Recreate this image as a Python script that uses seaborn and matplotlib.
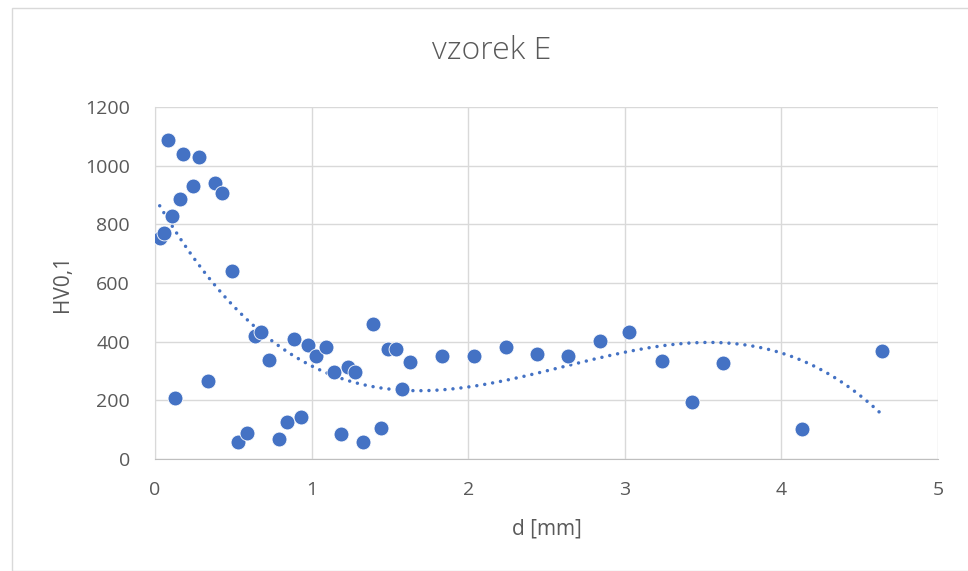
import numpy as np
import pandas as pd
import seaborn as sns
import matplotlib.pyplot as plt

# d [mm] and HV0,1 values
d_mm = [0.03, 0.06, 0.08, 0.11, 0.13, 0.16, 0.18, 0.24, 0.28, 0.34,
        0.38, 0.43, 0.49, 0.53, 0.59, 0.64, 0.68, 0.73, 0.79, 0.84,
        0.89, 0.93, 0.98, 1.03, 1.09, 1.14, 1.19, 1.23, 1.28, 1.33,
        1.39, 1.44, 1.49, 1.54, 1.58, 1.63, 1.83, 2.04, 2.24, 2.44,
        2.64, 2.84, 3.03, 3.24, 3.43, 3.63, 4.13, 4.64]
hv = [755, 772, 1087, 828, 208, 886, 1040, 931, 1030, 266,
      941, 907, 641, 58, 89, 420, 433, 338, 68, 126,
      409, 143, 389, 351, 382, 297, 85, 314, 297, 58,
      460, 106, 375, 375, 239, 331, 351, 351, 382, 358,
      351, 402, 433, 334, 194, 327, 102, 368]

df = pd.DataFrame({'d [mm]': d_mm, 'HV0,1': hv})

# polynomial trendline (order 3), like the Excel one
coef = np.polyfit(df['d [mm]'], df['HV0,1'], 3)
xs = np.linspace(min(d_mm), max(d_mm), 300)
trend = pd.DataFrame({'d [mm]': xs, 'HV0,1': np.polyval(coef, xs)})

sns.set_style('white')
plt.rcParams['font.family'] = ['Open Sans', 'DejaVu Sans']

blue = '#4472C4'
grey = '#595959'

fig = plt.figure(figsize=(9.68, 5.71), dpi=100)
ax = fig.add_axes([155/968, 1 - 459/571, (938-155)/968, (459-107)/571])

sns.lineplot(data=trend, x='d [mm]', y='HV0,1', ax=ax, color=blue,
             linestyle=(0, (0.01, 2.3)), linewidth=2.5,
             dash_capstyle='round', solid_capstyle='round')
sns.scatterplot(data=df, x='d [mm]', y='HV0,1', ax=ax, color=blue,
                s=115, edgecolor='white', linewidth=0.6, zorder=3)

ax.set_xlim(0, 5)
ax.set_ylim(0, 1200)
ax.set_xticks(range(0, 6))
ax.set_yticks(range(0, 1201, 200))
ax.grid(True, color='#d9d9d9', linewidth=1)
ax.set_axisbelow(True)
for side in ['top', 'right']:
    ax.spines[side].set_visible(False)
ax.spines['left'].set_color('#d9d9d9')
ax.spines['bottom'].set_color('#bfbfbf')
ax.tick_params(length=0, labelsize=14, labelcolor=grey)
ax.tick_params(axis='y', pad=18)
ax.tick_params(axis='x', pad=16)

ax.set_xlabel('d [mm]', fontsize=15, color=grey)
ax.set_ylabel('HV0,1', fontsize=15, color=grey)
ax.xaxis.set_label_coords(0.5, (459 - 518) / 352)
ax.yaxis.set_label_coords((73 - 155) / 783, 0.5)
fig.text(492/968, 1 - 51/571, 'vzorek E', ha='center', va='center',
         fontsize=23, color=grey, fontweight='light')

# outer chart border
fig.patches.append(plt.Rectangle((12/968, 0.0), 0.99, 1 - 8/571,
                                 transform=fig.transFigure, fill=False,
                                 edgecolor='#d9d9d9', linewidth=1))

fig.savefig('out.png', dpi=100)
